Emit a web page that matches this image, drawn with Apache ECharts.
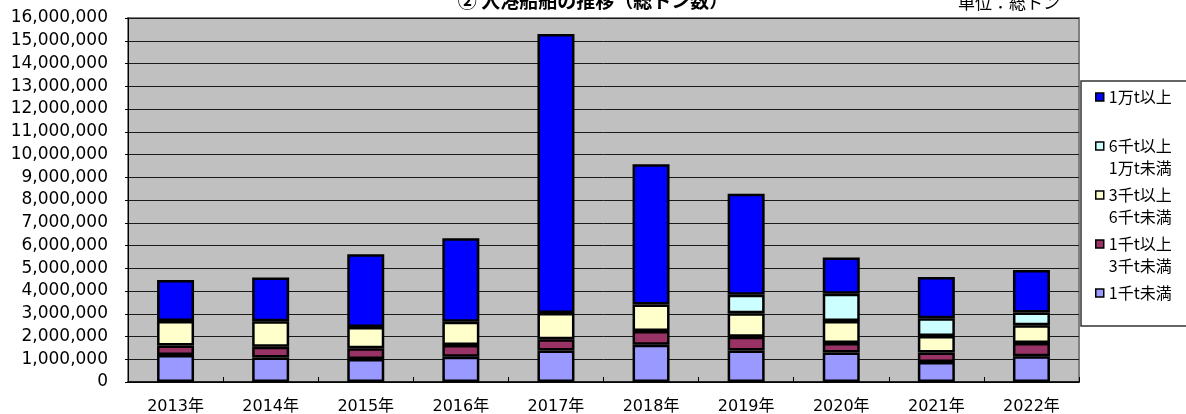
<!DOCTYPE html>
<html>
<head>
<meta charset="utf-8">
<script src="https://cdn.jsdelivr.net/npm/echarts@6/dist/echarts.min.js"></script>
<style>
html,body{margin:0;padding:0;background:#fff;}
#chart{width:1186px;height:414px;}
</style>
</head>
<body>
<div id="chart"></div>
<script>
const categories = ['2013年','2014年','2015年','2016年','2017年','2018年','2019年','2020年','2021年','2022年'];
const yTicks = [0, 16000000, 1000000]; // min, max, interval

const seriesNames = ['1千t未満', '1千t以上3千t未満', '3千t以上6千t未満', '6千t以上1万t未満', '1万t以上'];
const legendLabels = {
  '1万t以上': '1万t以上\n ',
  '6千t以上1万t未満': '6千t以上\n1万t未満',
  '3千t以上6千t未満': '3千t以上\n6千t未満',
  '1千t以上3千t未満': '1千t以上\n3千t未満',
  '1千t未満': '1千t未満'
};

const under1k   = [1190000, 1080000, 1010000, 1110000, 1390000, 1640000, 1380000, 1300000,  880000, 1130000];
const k1to3     = [ 410000,  470000,  470000,  520000,  490000,  600000,  610000,  410000,  420000,  580000];
const k3to6     = [1080000, 1120000,  940000, 1020000, 1150000, 1170000, 1030000,  970000,  720000,  780000];
const k6to10    = [   null,    null,    null,    null,    null,    null,  820000, 1200000,  780000,  560000];
const over10k   = [1800000, 1920000, 3190000, 3670000,12270000, 6160000, 4440000, 1590000, 1820000, 1870000];

const colors = ['#9999FF', '#993366', '#FFFFCC', '#CCFFFF', '#0000FF'];
const values = [under1k, k1to3, k3to6, k6to10, over10k];

const chart = echarts.init(document.getElementById('chart'), null, {renderer: 'canvas'});

const LH = 22;
const legendData = ['1万t以上', '6千t以上1万t未満', '3千t以上6千t未満', '1千t以上3千t未満', '1千t未満'].map(function (n) {
  return {name: n, textStyle: {padding: n === '1千t未満' ? [0,0,0,0] : [0, 0, -LH, 0]}};
});

const series = seriesNames.map(function (name, i) {
  return {
    name: name,
    type: 'bar',
    stack: 'total',
    barWidth: 37,
    data: values[i],
    itemStyle: {color: colors[i], borderColor: '#000', borderWidth: 2.5},
    emphasis: {disabled: true}
  };
});

chart.setOption({
  animation: false,
  backgroundColor: '#fff',
  title: [
    {text: '② 入港船舶の推移（総トン数）', left: 'center', top: -9, padding: 0,
     textStyle: {fontSize: 19, fontWeight: 'bold', color: '#000', fontFamily: 'Noto Sans CJK JP'}},
    {text: '単位：総トン', right: 126, top: -6, padding: 0,
     textStyle: {fontSize: 17, fontWeight: 'normal', color: '#000', fontFamily: 'Noto Sans CJK JP'}}
  ],
  legend: {
    orient: 'vertical',
    left: 1081,
    top: 81,
    padding: [5, 200, 22, 14],
    itemGap: 8,
    itemWidth: 8,
    itemHeight: 8,
    icon: 'rect',
    backgroundColor: '#fff',
    borderColor: '#333',
    borderWidth: 1.5,
    borderRadius: 0,
    selectedMode: false,
    data: legendData,
    formatter: function (name) { return legendLabels[name]; },
    itemStyle: {borderColor: '#000', borderWidth: 1.5},
    textStyle: {fontSize: 16, color: '#000', lineHeight: LH, fontFamily: 'Noto Sans CJK JP', rich: {a: {}}}
  },
  grid: {left: 128, right: 107, top: 18, bottom: 32, show: true, backgroundColor: '#C0C0C0',
         borderColor: '#808080', borderWidth: 2, containLabel: false, outerBoundsMode: 'none'},
  xAxis: {
    type: 'category',
    data: categories,
    axisLine: {show: true, lineStyle: {color: '#000', width: 1.5}},
    axisTick: {show: true, inside: true, length: 5, lineStyle: {color: '#000'}},
    axisLabel: {color: '#000', fontSize: 16, margin: 17, fontFamily: 'DejaVu Sans, Noto Sans CJK JP'},
    splitLine: {show: false}
  },
  yAxis: {
    type: 'value',
    min: yTicks[0],
    max: yTicks[1],
    interval: yTicks[2],
    axisLine: {show: true, lineStyle: {color: '#000', width: 1}},
    axisTick: {show: true, length: 3, lineStyle: {color: '#000'}},
    axisLabel: {color: '#000', fontSize: 17, margin: 20, fontFamily: 'DejaVu Sans',
      formatter: function (v) { return v.toLocaleString('en-US'); }},
    splitLine: {show: true, lineStyle: {color: '#1a1a1a', width: 1}}
  },
  series: series
});
</script>
</body>
</html>
